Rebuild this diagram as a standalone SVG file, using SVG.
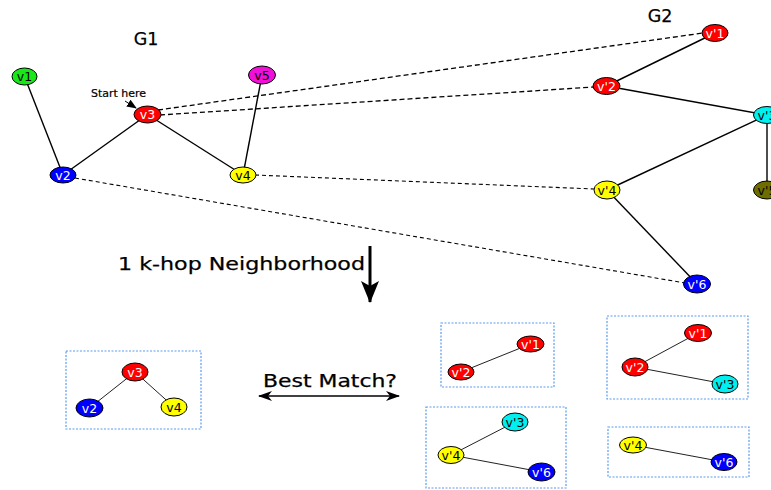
<svg xmlns="http://www.w3.org/2000/svg" width="771" height="490" viewBox="0 0 771 490">
<defs>
<style>
text{font-family:"DejaVu Sans","Liberation Sans",sans-serif}
.n{stroke:#000;stroke-width:1}
.lb{font-size:12.5px;text-anchor:middle;dominant-baseline:central}
.w{fill:#fff}.k{fill:#000}
.e{stroke:#000;stroke-width:1.4;fill:none}
.es{stroke:#222;stroke-width:1;fill:none}
.d{stroke:#000;stroke-width:1.1;stroke-dasharray:4,3;fill:none}
.d2{stroke:#000;stroke-width:1.3;stroke-dasharray:5,3;fill:none}
.box{fill:none;stroke:#5b9cf0;stroke-width:1.2;stroke-dasharray:2,1.5}
.big{font-size:17.5px;fill:#000;stroke:#000;stroke-width:0.25}
.red{fill:#ff0000}.blue{fill:#0000ff}.yel{fill:#ffff00}.cyan{fill:#00f0f0}.grn{fill:#17e817}.mag{fill:#f010d8}.olv{fill:#6e6e00}
</style>
<marker id="ah" viewBox="0 0 10 10" refX="9" refY="5" markerWidth="10" markerHeight="10" markerUnits="userSpaceOnUse" orient="auto">
<path d="M0,1 L10,5 L0,9 z" fill="#000"/>
</marker>
<marker id="dah" viewBox="0 0 14 10" refX="13" refY="5" markerWidth="16" markerHeight="10" markerUnits="userSpaceOnUse" orient="auto-start-reverse">
<path d="M0,0 L14,5 L0,10 L4,5 z" fill="#000"/>
</marker>
<marker id="bah" viewBox="0 0 22 18" refX="21" refY="9" markerWidth="22" markerHeight="18" markerUnits="userSpaceOnUse" orient="auto">
<path d="M0,0 L22,9 L0,18 L5,9 z" fill="#000"/>
</marker>
</defs>

<text x="146" y="45" class="big" text-anchor="middle">G1</text>
<text x="660" y="22" class="big" text-anchor="middle">G2</text>
<text x="91" y="97" font-size="10" fill="#000" stroke="#000" stroke-width="0.2" textLength="55" lengthAdjust="spacingAndGlyphs">Start here</text>

<g id="connectors">
<line class="e" x1="24.5" y1="76.5" x2="63" y2="175"/>
<line class="e" x1="63" y1="175" x2="147.5" y2="114.5"/>
<line class="e" x1="147.5" y1="114.5" x2="243" y2="175"/>
<line class="e" x1="262" y1="75" x2="243" y2="175"/>
<line class="e" x1="715" y1="33" x2="606.5" y2="86"/>
<line class="e" x1="606.5" y1="86" x2="767" y2="115"/>
<line class="e" x1="767" y1="115" x2="607" y2="190"/>
<line class="e" x1="767" y1="115" x2="767" y2="190"/>
<line class="e" x1="607" y1="190" x2="697" y2="284"/>
<line class="d2" x1="158" y1="110" x2="703" y2="33"/>
<line class="d2" x1="160" y1="115" x2="594" y2="87"/>
<line class="d" x1="255" y1="175" x2="594" y2="189"/>
<line class="d" x1="75" y1="178" x2="685" y2="283"/>
<line x1="125" y1="101" x2="136" y2="108" stroke="#000" stroke-width="1" marker-end="url(#ah)"/>
<line x1="370" y1="246" x2="370" y2="302" stroke="#000" stroke-width="3" marker-end="url(#bah)"/>
<line x1="259" y1="396" x2="399" y2="396" stroke="#000" stroke-width="1.3" marker-start="url(#dah)" marker-end="url(#dah)"/>
<line class="es" x1="135" y1="372" x2="89.5" y2="408"/>
<line class="es" x1="135" y1="372" x2="174" y2="407"/>
<line class="es" x1="530.5" y1="344" x2="461" y2="372"/>
<line class="es" x1="698" y1="333" x2="635" y2="367"/>
<line class="es" x1="635" y1="367" x2="725" y2="384"/>
<line class="es" x1="515" y1="422" x2="451" y2="455"/>
<line class="es" x1="451" y1="455" x2="541.5" y2="472"/>
<line class="es" x1="633" y1="445" x2="724" y2="462"/>
</g>

<text x="118" y="270" class="big" textLength="247" lengthAdjust="spacingAndGlyphs">1 k-hop Neighborhood</text>
<text x="263" y="387" class="big" textLength="134" lengthAdjust="spacingAndGlyphs">Best Match?</text>

<rect class="box" x="66" y="351" width="135" height="78"/>
<rect class="box" x="441" y="323" width="113" height="64"/>
<rect class="box" x="607" y="316" width="141" height="83"/>
<rect class="box" x="426" y="407" width="140" height="81"/>
<rect class="box" x="608" y="427" width="141" height="50"/>

<g id="v1"><ellipse class="n grn" cx="24.5" cy="76.5" rx="12.5" ry="8.5"/><text class="lb k" x="24.5" y="76.5">v1</text></g>
<g id="v2"><ellipse class="n blue" cx="63" cy="175" rx="13" ry="8"/><text class="lb w" x="63" y="175">v2</text></g>
<g id="v3"><ellipse class="n red" cx="147.5" cy="114.5" rx="13.5" ry="8.5"/><text class="lb w" x="147.5" y="114.5">v3</text></g>
<g id="v4"><ellipse class="n yel" cx="243" cy="175" rx="13" ry="8"/><text class="lb k" x="243" y="175">v4</text></g>
<g id="v5"><ellipse class="n mag" cx="262" cy="75" rx="13.5" ry="9"/><text class="lb k" x="262" y="75">v5</text></g>

<g id="g2v1"><ellipse class="n red" cx="715" cy="33" rx="13" ry="8.5"/><text class="lb w" x="715" y="33">v'1</text></g>
<g id="g2v2"><ellipse class="n red" cx="606.5" cy="86" rx="13.5" ry="8.5"/><text class="lb w" x="606.5" y="86">v'2</text></g>
<g id="g2v3"><ellipse class="n cyan" cx="767" cy="115" rx="13.5" ry="8.5"/><text class="lb k" x="767" y="115">v'3</text></g>
<g id="g2v4"><ellipse class="n yel" cx="607" cy="190" rx="13" ry="9"/><text class="lb k" x="607" y="190">v'4</text></g>
<g id="g2v5"><ellipse class="n olv" cx="767" cy="190" rx="13.5" ry="9"/><text class="lb k" x="767" y="190">v'5</text></g>
<g id="g2v6"><ellipse class="n blue" cx="697" cy="284" rx="13.5" ry="9"/><text class="lb w" x="697" y="284">v'6</text></g>

<g id="b1v3"><ellipse class="n red" cx="135" cy="372" rx="13" ry="9"/><text class="lb w" x="135" y="372">v3</text></g>
<g id="b1v2"><ellipse class="n blue" cx="89.5" cy="408" rx="13.5" ry="9"/><text class="lb w" x="89.5" y="408">v2</text></g>
<g id="b1v4"><ellipse class="n yel" cx="174" cy="407" rx="13" ry="9"/><text class="lb k" x="174" y="407">v4</text></g>

<g id="b2v1"><ellipse class="n red" cx="530.5" cy="344" rx="13.5" ry="8"/><text class="lb w" x="530.5" y="344">v'1</text></g>
<g id="b2v2"><ellipse class="n red" cx="461" cy="372" rx="13" ry="8"/><text class="lb w" x="461" y="372">v'2</text></g>

<g id="b3v1"><ellipse class="n red" cx="698" cy="333" rx="13.5" ry="8.5"/><text class="lb w" x="698" y="333">v'1</text></g>
<g id="b3v2"><ellipse class="n red" cx="635" cy="367" rx="13" ry="9"/><text class="lb w" x="635" y="367">v'2</text></g>
<g id="b3v3"><ellipse class="n cyan" cx="725" cy="384" rx="13" ry="9"/><text class="lb k" x="725" y="384">v'3</text></g>

<g id="b4v3"><ellipse class="n cyan" cx="515" cy="422" rx="13" ry="9"/><text class="lb k" x="515" y="422">v'3</text></g>
<g id="b4v4"><ellipse class="n yel" cx="451" cy="455" rx="13" ry="8.5"/><text class="lb k" x="451" y="455">v'4</text></g>
<g id="b4v6"><ellipse class="n blue" cx="541.5" cy="472" rx="13.5" ry="9"/><text class="lb w" x="541.5" y="472">v'6</text></g>

<g id="b5v4"><ellipse class="n yel" cx="633" cy="445" rx="13.5" ry="8"/><text class="lb k" x="633" y="445">v'4</text></g>
<g id="b5v6"><ellipse class="n blue" cx="724" cy="462" rx="13" ry="8.5"/><text class="lb w" x="724" y="462">v'6</text></g>
</svg>
